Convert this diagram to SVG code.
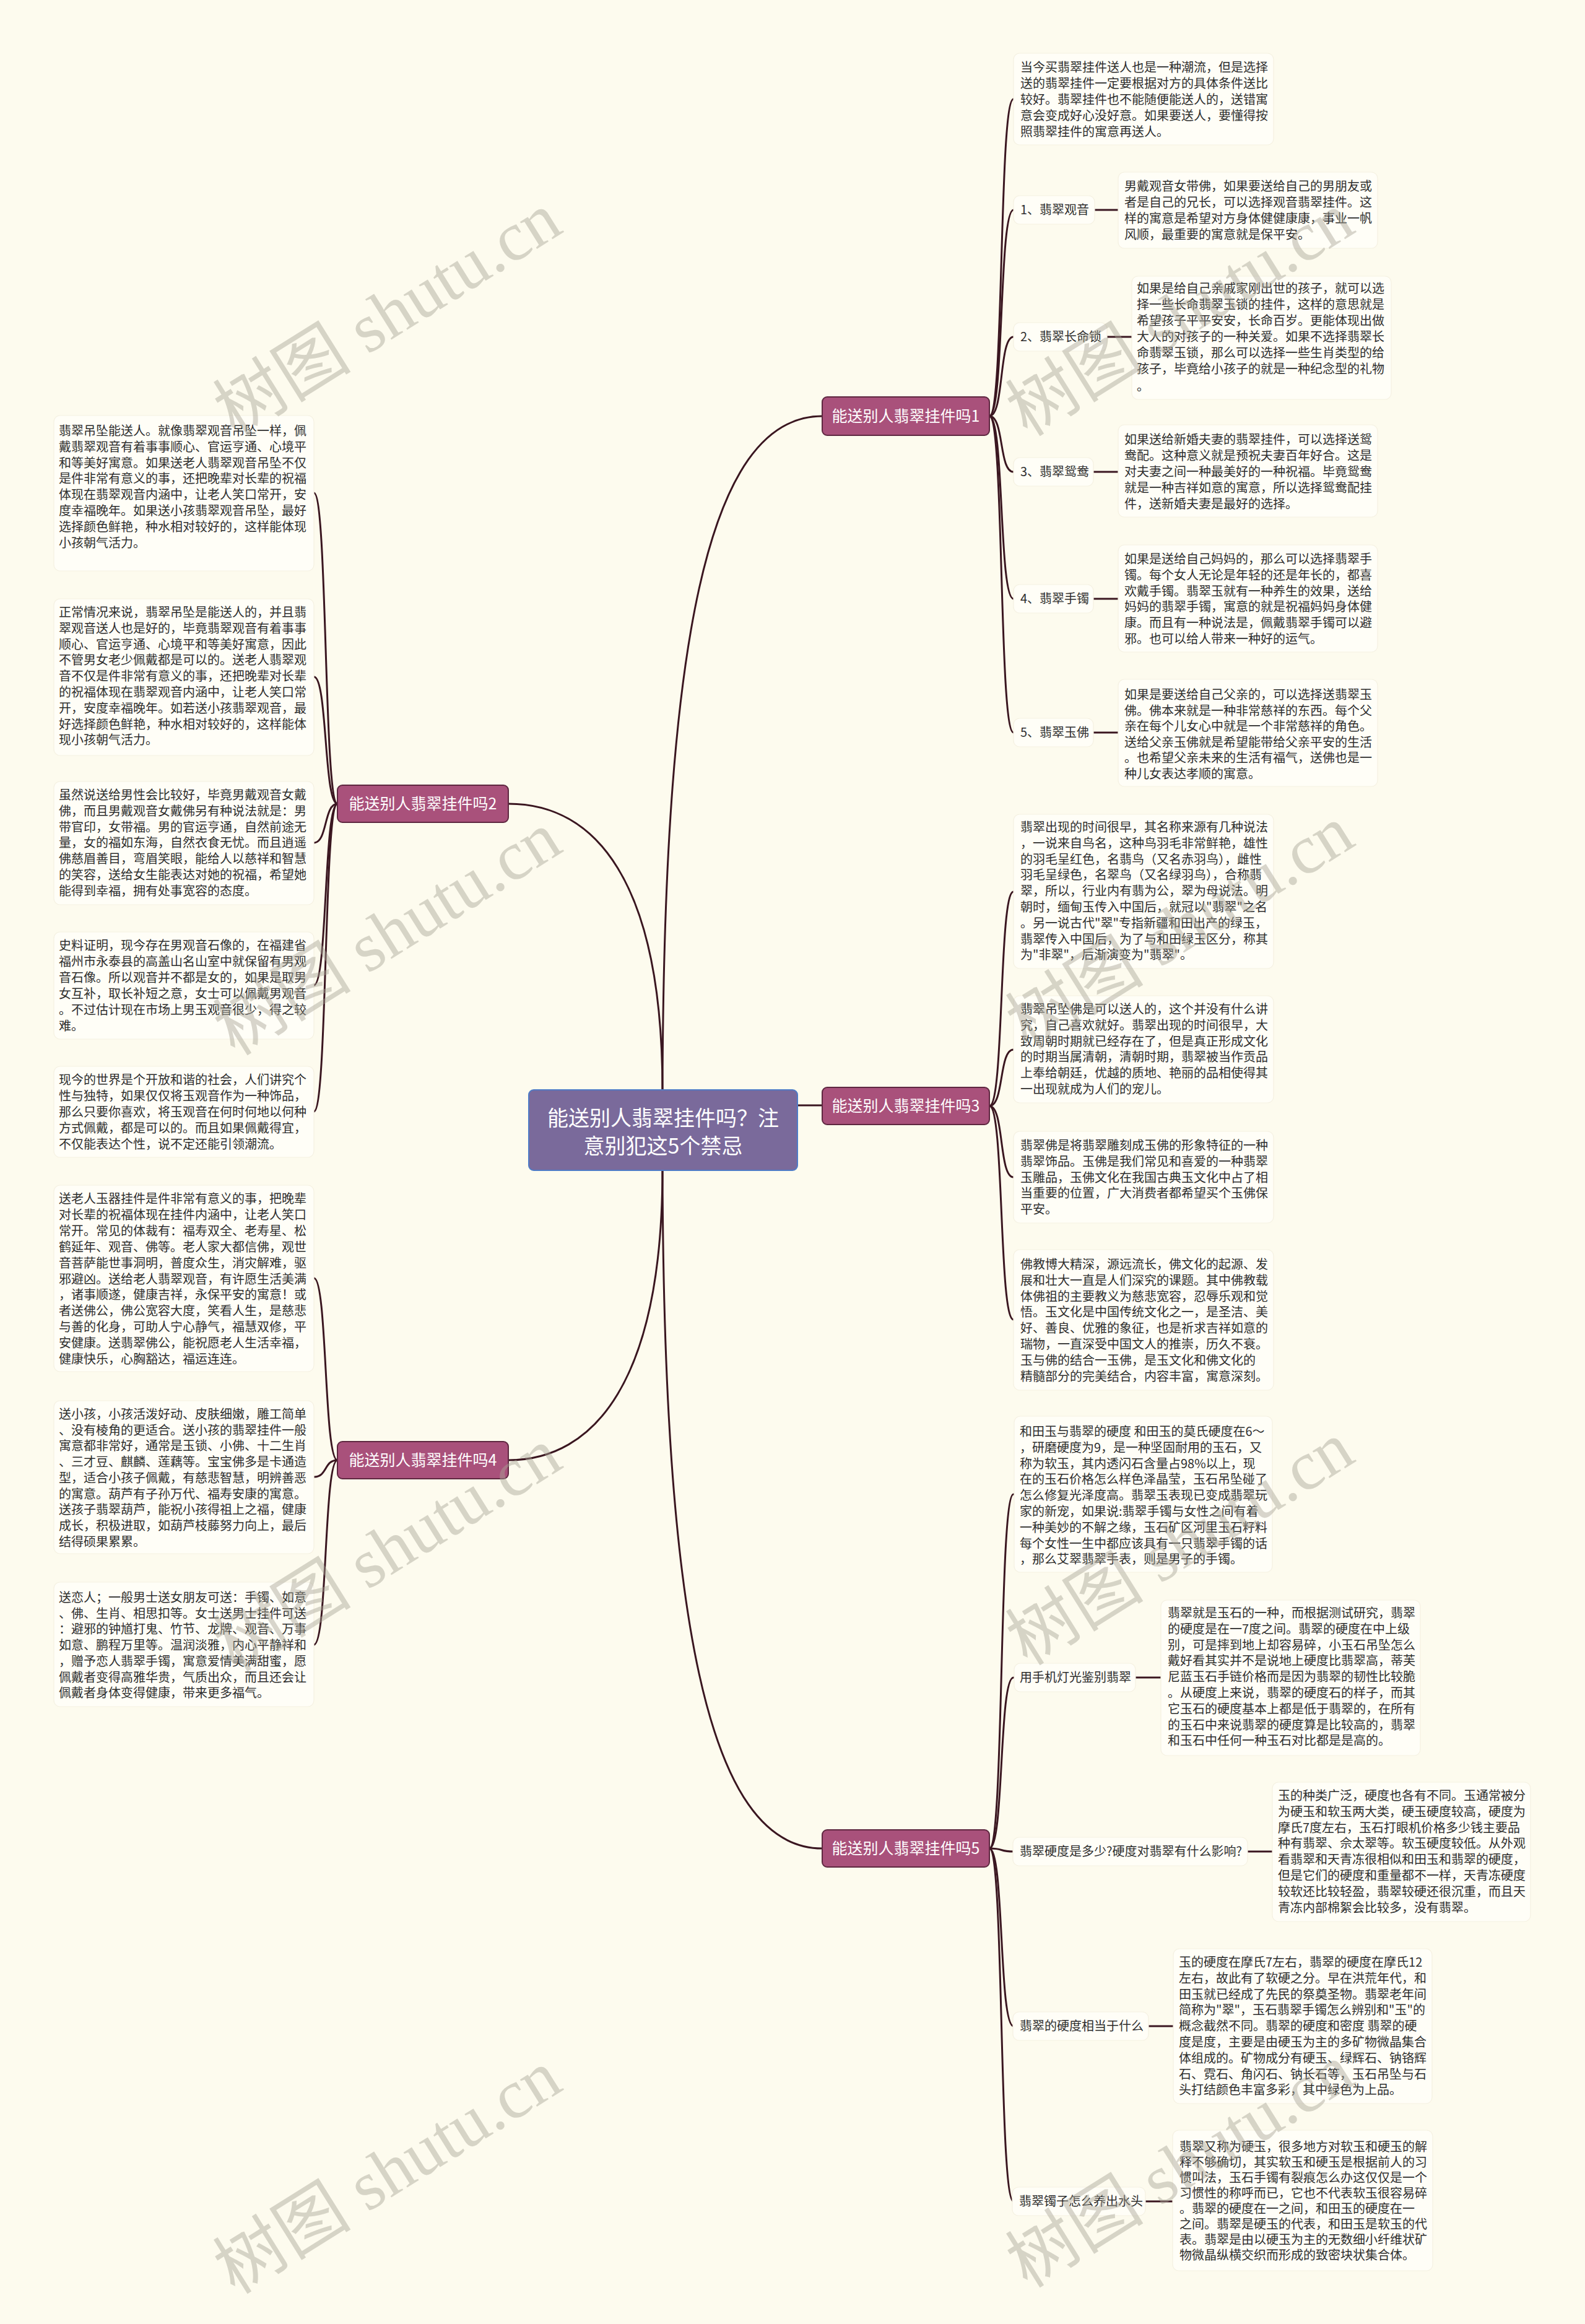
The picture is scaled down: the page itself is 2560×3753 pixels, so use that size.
<svg xmlns="http://www.w3.org/2000/svg" width="2560" height="3753" viewBox="0 0 2560 3753">
<style>
.t{font-family:"Noto Sans CJK SC","Noto Sans",sans-serif;font-size:20px;fill:#2e2e2e}
.box{fill:#fffef7;stroke:#f5f1e2;stroke-width:1.2}
.c{fill:none;stroke:#3a1620;stroke-width:3;stroke-linecap:round}
.br{fill:#a9517b;stroke:#5e2740;stroke-width:2}
.bt{font-family:"Noto Sans CJK SC","Noto Sans",sans-serif;font-size:25px;fill:#ffffff;text-anchor:middle}
.wm{font-family:"Liberation Serif","Noto Sans CJK SC",serif;font-size:112px;fill:#a9a597;opacity:0.45}
</style>
<rect x="0" y="0" width="2560" height="3753" fill="#fdfbee"/>

<g id="connectors">
<path class="c" d="M1070,1762 C1072,1050 1140,672 1328,672"/>
<path class="c" d="M1070,1762 C1070,1420 960,1298 821,1298"/>
<path class="c" d="M1288,1785 L1328,1785"/>
<path class="c" d="M1070,1888 C1070,2230 960,2358 821,2358"/>
<path class="c" d="M1070,1888 C1072,2600 1140,2985 1328,2985"/>
<path class="c" d="M1598,672 C1622,672 1613,160 1637,160"/>
<path class="c" d="M1598,672 C1622,672 1613,339 1637,339"/>
<path class="c" d="M1598,672 C1622,672 1613,544 1637,544"/>
<path class="c" d="M1598,672 C1622,672 1613,762 1637,762"/>
<path class="c" d="M1598,672 C1622,672 1613,967 1637,967"/>
<path class="c" d="M1598,672 C1622,672 1613,1183 1637,1183"/>
<path class="c" d="M1768,339 L1806,339"/>
<path class="c" d="M1788,544 L1828,544"/>
<path class="c" d="M1766,762 L1806,762"/>
<path class="c" d="M1766,967 L1806,967"/>
<path class="c" d="M1766,1183 L1806,1183"/>
<path class="c" d="M1598,1786 C1622,1786 1613,1440 1637,1440"/>
<path class="c" d="M1598,1786 C1622,1786 1613,1695 1637,1695"/>
<path class="c" d="M1598,1786 C1622,1786 1613,1901 1637,1901"/>
<path class="c" d="M1598,1786 C1622,1786 1613,2131 1637,2131"/>
<path class="c" d="M1598,2985 C1622,2985 1613,2413 1637,2413"/>
<path class="c" d="M1598,2985 C1622,2985 1613,2709 1637,2709"/>
<path class="c" d="M1598,2985 C1622,2985 1613,2990 1637,2990"/>
<path class="c" d="M1598,2985 C1622,2985 1613,3272 1637,3272"/>
<path class="c" d="M1598,2985 C1622,2985 1613,3555 1637,3555"/>
<path class="c" d="M1834,2709 L1875,2709"/>
<path class="c" d="M2015,2990 L2055,2990"/>
<path class="c" d="M1855,3272 L1895,3272"/>
<path class="c" d="M1850,3555 L1894,3555"/>
<path class="c" d="M545,1298 C523,1298 529,796 507,796"/>
<path class="c" d="M545,1298 C523,1298 529,1093 507,1093"/>
<path class="c" d="M545,1298 C523,1298 529,1361 507,1361"/>
<path class="c" d="M545,1298 C523,1298 529,1591 507,1591"/>
<path class="c" d="M545,1298 C523,1298 529,1795 507,1795"/>
<path class="c" d="M545,2358 C523,2358 529,2064 507,2064"/>
<path class="c" d="M545,2358 C523,2358 529,2385 507,2385"/>
<path class="c" d="M545,2358 C523,2358 529,2656 507,2656"/>
</g>

<g id="root">
<rect x="854" y="1760" width="434" height="130" rx="8" fill="#7a6a9b" stroke="#4f7cc7" stroke-width="2"/>
<text font-family="Noto Sans CJK SC, sans-serif" font-size="34" fill="#ffffff" text-anchor="middle"><tspan x="1071" y="1818">能送别人翡翠挂件吗？注</tspan><tspan x="1071" y="1863">意别犯这5个禁忌</tspan></text>
</g>

<g id="b1"><rect class="br" x="1328" y="641" width="270" height="62" rx="8"/><text class="bt" x="1463" y="681">能送别人翡翠挂件吗1</text></g>
<g id="b2"><rect class="br" x="545" y="1268" width="276" height="60" rx="8"/><text class="bt" x="683" y="1307">能送别人翡翠挂件吗2</text></g>
<g id="b3"><rect class="br" x="1328" y="1756" width="270" height="60" rx="8"/><text class="bt" x="1463" y="1795">能送别人翡翠挂件吗3</text></g>
<g id="b4"><rect class="br" x="545" y="2328" width="276" height="60" rx="8"/><text class="bt" x="683" y="2367">能送别人翡翠挂件吗4</text></g>
<g id="b5"><rect class="br" x="1328" y="2955" width="270" height="60" rx="8"/><text class="bt" x="1463" y="2994">能送别人翡翠挂件吗5</text></g>

<g id="b1-intro"><rect class="box" x="1637" y="86" width="420" height="148" rx="10"/>
<text class="t"><tspan x="1648" y="116">当今买翡翠挂件送人也是一种潮流，但是选择</tspan><tspan x="1648" dy="26">送的翡翠挂件一定要根据对方的具体条件送比</tspan><tspan x="1648" dy="26">较好。翡翠挂件也不能随便能送人的，送错寓</tspan><tspan x="1648" dy="26">意会变成好心没好意。如果要送人，要懂得按</tspan><tspan x="1648" dy="26">照翡翠挂件的寓意再送人。</tspan></text></g>

<g id="b1-l1"><rect class="box" x="1637" y="316" width="131" height="46" rx="10"/><text class="t" x="1648" y="346">1、翡翠观音</text></g>
<g id="b1-t1"><rect class="box" x="1806" y="278" width="419" height="123" rx="10"/>
<text class="t"><tspan x="1816" y="308">男戴观音女带佛，如果要送给自己的男朋友或</tspan><tspan x="1816" dy="26">者是自己的兄长，可以选择观音翡翠挂件。这</tspan><tspan x="1816" dy="26">样的寓意是希望对方身体健健康康，事业一帆</tspan><tspan x="1816" dy="26">风顺，最重要的寓意就是保平安。</tspan></text></g>

<g id="b1-l2"><rect class="box" x="1637" y="521" width="151" height="46" rx="10"/><text class="t" x="1648" y="551">2、翡翠长命锁</text></g>
<g id="b1-t2"><rect class="box" x="1828" y="446" width="419" height="199" rx="10"/>
<text class="t"><tspan x="1836" y="473">如果是给自己亲戚家刚出世的孩子，就可以选</tspan><tspan x="1836" dy="26">择一些长命翡翠玉锁的挂件，这样的意思就是</tspan><tspan x="1836" dy="26">希望孩子平平安安，长命百岁。更能体现出做</tspan><tspan x="1836" dy="26">大人的对孩子的一种关爱。如果不选择翡翠长</tspan><tspan x="1836" dy="26">命翡翠玉锁，那么可以选择一些生肖类型的给</tspan><tspan x="1836" dy="26">孩子，毕竟给小孩子的就是一种纪念型的礼物</tspan><tspan x="1836" dy="28">。</tspan></text></g>

<g id="b1-l3"><rect class="box" x="1637" y="739" width="129" height="46" rx="10"/><text class="t" x="1648" y="769">3、翡翠鸳鸯</text></g>
<g id="b1-t3"><rect class="box" x="1806" y="686" width="419" height="149" rx="10"/>
<text class="t"><tspan x="1816" y="717">如果送给新婚夫妻的翡翠挂件，可以选择送鸳</tspan><tspan x="1816" dy="26">鸯配。这种意义就是预祝夫妻百年好合。这是</tspan><tspan x="1816" dy="26">对夫妻之间一种最美好的一种祝福。毕竟鸳鸯</tspan><tspan x="1816" dy="26">就是一种吉祥如意的寓意，所以选择鸳鸯配挂</tspan><tspan x="1816" dy="26">件，送新婚夫妻是最好的选择。</tspan></text></g>

<g id="b1-l4"><rect class="box" x="1637" y="944" width="129" height="46" rx="10"/><text class="t" x="1648" y="974">4、翡翠手镯</text></g>
<g id="b1-t4"><rect class="box" x="1806" y="880" width="419" height="173" rx="10"/>
<text class="t"><tspan x="1816" y="910">如果是送给自己妈妈的，那么可以选择翡翠手</tspan><tspan x="1816" dy="25.8">镯。每个女人无论是年轻的还是年长的，都喜</tspan><tspan x="1816" dy="25.8">欢戴手镯。翡翠玉就有一种养生的效果，送给</tspan><tspan x="1816" dy="25.8">妈妈的翡翠手镯，寓意的就是祝福妈妈身体健</tspan><tspan x="1816" dy="25.8">康。而且有一种说法是，佩戴翡翠手镯可以避</tspan><tspan x="1816" dy="25.8">邪。也可以给人带来一种好的运气。</tspan></text></g>

<g id="b1-l5"><rect class="box" x="1637" y="1160" width="129" height="46" rx="10"/><text class="t" x="1648" y="1190">5、翡翠玉佛</text></g>
<g id="b1-t5"><rect class="box" x="1806" y="1097" width="419" height="173" rx="10"/>
<text class="t"><tspan x="1816" y="1129">如果是要送给自己父亲的，可以选择送翡翠玉</tspan><tspan x="1816" dy="25.5">佛。佛本来就是一种非常慈祥的东西。每个父</tspan><tspan x="1816" dy="25.5">亲在每个儿女心中就是一个非常慈祥的角色。</tspan><tspan x="1816" dy="25.5">送给父亲玉佛就是希望能带给父亲平安的生活</tspan><tspan x="1816" dy="25.5">。也希望父亲未来的生活有福气，送佛也是一</tspan><tspan x="1816" dy="25.5">种儿女表达孝顺的寓意。</tspan></text></g>

<g id="b3-t1"><rect class="box" x="1637" y="1315" width="420" height="249" rx="10"/>
<text class="t"><tspan x="1648" y="1343">翡翠出现的时间很早，其名称来源有几种说法</tspan><tspan x="1648" dy="25.8">，一说来自鸟名，这种鸟羽毛非常鲜艳，雄性</tspan><tspan x="1648" dy="25.8">的羽毛呈红色，名翡鸟（又名赤羽鸟），雌性</tspan><tspan x="1648" dy="25.8">羽毛呈绿色，名翠鸟（又名绿羽鸟），合称翡</tspan><tspan x="1648" dy="25.8">翠，所以，行业内有翡为公，翠为母说法。明</tspan><tspan x="1648" dy="25.8">朝时，缅甸玉传入中国后，就冠以"翡翠"之名</tspan><tspan x="1648" dy="25.8">。另一说古代"翠"专指新疆和田出产的绿玉，</tspan><tspan x="1648" dy="25.8">翡翠传入中国后，为了与和田绿玉区分，称其</tspan><tspan x="1648" dy="25.8">为"非翠"，后渐演变为"翡翠"。</tspan></text></g>

<g id="b3-t2"><rect class="box" x="1637" y="1608" width="420" height="173" rx="10"/>
<text class="t"><tspan x="1648" y="1637">翡翠吊坠佛是可以送人的，这个并没有什么讲</tspan><tspan x="1648" dy="25.8">究，自己喜欢就好。翡翠出现的时间很早，大</tspan><tspan x="1648" dy="25.8">致周朝时期就已经存在了，但是真正形成文化</tspan><tspan x="1648" dy="25.8">的时期当属清朝，清朝时期，翡翠被当作贡品</tspan><tspan x="1648" dy="25.8">上奉给朝廷，优越的质地、艳丽的品相使得其</tspan><tspan x="1648" dy="25.8">一出现就成为人们的宠儿。</tspan></text></g>

<g id="b3-t3"><rect class="box" x="1637" y="1827" width="420" height="148" rx="10"/>
<text class="t"><tspan x="1648" y="1857">翡翠佛是将翡翠雕刻成玉佛的形象特征的一种</tspan><tspan x="1648" dy="25.8">翡翠饰品。玉佛是我们常见和喜爱的一种翡翠</tspan><tspan x="1648" dy="25.8">玉雕品，玉佛文化在我国古典玉文化中占了相</tspan><tspan x="1648" dy="25.8">当重要的位置，广大消费者都希望买个玉佛保</tspan><tspan x="1648" dy="25.8">平安。</tspan></text></g>

<g id="b3-t4"><rect class="box" x="1637" y="2018" width="420" height="227" rx="10"/>
<text class="t"><tspan x="1648" y="2049">佛教博大精深，源远流长，佛文化的起源、发</tspan><tspan x="1648" dy="25.8">展和壮大一直是人们深究的课题。其中佛教载</tspan><tspan x="1648" dy="25.8">体佛祖的主要教义为慈悲宽容，忍辱乐观和觉</tspan><tspan x="1648" dy="25.8">悟。玉文化是中国传统文化之一，是圣洁、美</tspan><tspan x="1648" dy="25.8">好、善良、优雅的象征，也是祈求吉祥如意的</tspan><tspan x="1648" dy="25.8">瑞物，一直深受中国文人的推崇，历久不衰。</tspan><tspan x="1648" dy="25.8">玉与佛的结合一玉佛，是玉文化和佛文化的</tspan><tspan x="1648" dy="25.8">精髓部分的完美结合，内容丰富，寓意深刻。</tspan></text></g>

<g id="b5-t1"><rect class="box" x="1638" y="2287" width="417" height="252" rx="10"/>
<text class="t"><tspan x="1647" y="2319">和田玉与翡翠的硬度 和田玉的莫氏硬度在6～</tspan><tspan x="1647" dy="25.8">，研磨硬度为9，是一种坚固耐用的玉石，又</tspan><tspan x="1647" dy="25.8">称为软玉，其内透闪石含量占98%以上，现</tspan><tspan x="1647" dy="25.8">在的玉石价格怎么样色泽晶莹，玉石吊坠碰了</tspan><tspan x="1647" dy="25.8">怎么修复光泽度高。翡翠玉表现已变成翡翠玩</tspan><tspan x="1647" dy="25.8">家的新宠，如果说:翡翠手镯与女性之间有着</tspan><tspan x="1647" dy="25.8">一种美妙的不解之缘，玉石矿区河里玉石籽料</tspan><tspan x="1647" dy="25.8">每个女性一生中都应该具有一只翡翠手镯的话</tspan><tspan x="1647" dy="25.8">，那么艾翠翡翠手表，则是男子的手镯。</tspan></text></g>

<g id="b5-l2"><rect class="box" x="1638" y="2686" width="196" height="46" rx="10"/><text class="t" x="1647" y="2716">用手机灯光鉴别翡翠</text></g>
<g id="b5-t2"><rect class="box" x="1875" y="2584" width="419" height="251" rx="10"/>
<text class="t"><tspan x="1886" y="2612">翡翠就是玉石的一种，而根据测试研究，翡翠</tspan><tspan x="1886" dy="25.8">的硬度是在一7度之间。翡翠的硬度在中上级</tspan><tspan x="1886" dy="25.8">别，可是摔到地上却容易碎，小玉石吊坠怎么</tspan><tspan x="1886" dy="25.8">戴好看其实并不是说地上硬度比翡翠高，蒂芙</tspan><tspan x="1886" dy="25.8">尼蓝玉石手链价格而是因为翡翠的韧性比较脆</tspan><tspan x="1886" dy="25.8">。从硬度上来说，翡翠的硬度石的样子，而其</tspan><tspan x="1886" dy="25.8">它玉石的硬度基本上都是低于翡翠的，在所有</tspan><tspan x="1886" dy="25.8">的玉石中来说翡翠的硬度算是比较高的，翡翠</tspan><tspan x="1886" dy="25.8">和玉石中任何一种玉石对比都是是高的。</tspan></text></g>

<g id="b5-l3"><rect class="box" x="1636" y="2967" width="379" height="46" rx="10"/><text class="t" x="1647" y="2997">翡翠硬度是多少?硬度对翡翠有什么影响?</text></g>
<g id="b5-t3"><rect class="box" x="2055" y="2878" width="417" height="225" rx="10"/>
<text class="t"><tspan x="2064" y="2907">玉的种类广泛，硬度也各有不同。玉通常被分</tspan><tspan x="2064" dy="25.8">为硬玉和软玉两大类，硬玉硬度较高，硬度为</tspan><tspan x="2064" dy="25.8">摩氏7度左右，玉石打眼机价格多少钱主要品</tspan><tspan x="2064" dy="25.8">种有翡翠、佘太翠等。软玉硬度较低。从外观</tspan><tspan x="2064" dy="25.8">看翡翠和天青冻很相似和田玉和翡翠的硬度，</tspan><tspan x="2064" dy="25.8">但是它们的硬度和重量都不一样，天青冻硬度</tspan><tspan x="2064" dy="25.8">较软还比较轻盈，翡翠较硬还很沉重，而且天</tspan><tspan x="2064" dy="25.8">青冻内部棉絮会比较多，没有翡翠。</tspan></text></g>

<g id="b5-l4"><rect class="box" x="1636" y="3249" width="219" height="46" rx="10"/><text class="t" x="1647" y="3279">翡翠的硬度相当于什么</text></g>
<g id="b5-t4"><rect class="box" x="1895" y="3147" width="418" height="250" rx="10"/>
<text class="t"><tspan x="1904" y="3176">玉的硬度在摩氏7左右，翡翠的硬度在摩氏12</tspan><tspan x="1904" dy="25.8">左右，故此有了软硬之分。早在洪荒年代，和</tspan><tspan x="1904" dy="25.8">田玉就已经成了先民的祭奠圣物。翡翠老年间</tspan><tspan x="1904" dy="25.8">简称为"翠"，玉石翡翠手镯怎么辨别和"玉"的</tspan><tspan x="1904" dy="25.8">概念截然不同。翡翠的硬度和密度 翡翠的硬</tspan><tspan x="1904" dy="25.8">度是度，主要是由硬玉为主的多矿物微晶集合</tspan><tspan x="1904" dy="25.8">体组成的。矿物成分有硬玉、绿辉石、钠铬辉</tspan><tspan x="1904" dy="25.8">石、霓石、角闪石、钠长石等，玉石吊坠与石</tspan><tspan x="1904" dy="25.8">头打结颜色丰富多彩，其中绿色为上品。</tspan></text></g>

<g id="b5-l5"><rect class="box" x="1635" y="3532" width="215" height="46" rx="10"/><text class="t" x="1646" y="3562">翡翠镯子怎么养出水头</text></g>
<g id="b5-t5"><rect class="box" x="1894" y="3440" width="420" height="227" rx="10"/>
<text class="t"><tspan x="1905" y="3474">翡翠又称为硬玉，很多地方对软玉和硬玉的解</tspan><tspan x="1905" dy="25">释不够确切，其实软玉和硬玉是根据前人的习</tspan><tspan x="1905" dy="25">惯叫法，玉石手镯有裂痕怎么办这仅仅是一个</tspan><tspan x="1905" dy="25">习惯性的称呼而已，它也不代表软玉很容易碎</tspan><tspan x="1905" dy="25">。翡翠的硬度在一之间，和田玉的硬度在一</tspan><tspan x="1905" dy="25">之间。翡翠是硬玉的代表，和田玉是软玉的代</tspan><tspan x="1905" dy="25">表。翡翠是由以硬玉为主的无数细小纤维状矿</tspan><tspan x="1905" dy="25">物微晶纵横交织而形成的致密块状集合体。</tspan></text></g>

<g id="b2-t1"><rect class="box" x="87" y="671" width="420" height="251" rx="10"/>
<text class="t"><tspan x="95" y="703">翡翠吊坠能送人。就像翡翠观音吊坠一样，佩</tspan><tspan x="95" dy="25.8">戴翡翠观音有着事事顺心、官运亨通、心境平</tspan><tspan x="95" dy="25.8">和等美好寓意。如果送老人翡翠观音吊坠不仅</tspan><tspan x="95" dy="25.8">是件非常有意义的事，还把晚辈对长辈的祝福</tspan><tspan x="95" dy="25.8">体现在翡翠观音内涵中，让老人笑口常开，安</tspan><tspan x="95" dy="25.8">度幸福晚年。如果送小孩翡翠观音吊坠，最好</tspan><tspan x="95" dy="25.8">选择颜色鲜艳，种水相对较好的，这样能体现</tspan><tspan x="95" dy="25.8">小孩朝气活力。</tspan></text></g>

<g id="b2-t2"><rect class="box" x="87" y="967" width="420" height="253" rx="10"/>
<text class="t"><tspan x="95" y="996">正常情况来说，翡翠吊坠是能送人的，并且翡</tspan><tspan x="95" dy="25.8">翠观音送人也是好的，毕竟翡翠观音有着事事</tspan><tspan x="95" dy="25.8">顺心、官运亨通、心境平和等美好寓意，因此</tspan><tspan x="95" dy="25.8">不管男女老少佩戴都是可以的。送老人翡翠观</tspan><tspan x="95" dy="25.8">音不仅是件非常有意义的事，还把晚辈对长辈</tspan><tspan x="95" dy="25.8">的祝福体现在翡翠观音内涵中，让老人笑口常</tspan><tspan x="95" dy="25.8">开，安度幸福晚年。如若送小孩翡翠观音，最</tspan><tspan x="95" dy="25.8">好选择颜色鲜艳，种水相对较好的，这样能体</tspan><tspan x="95" dy="25.8">现小孩朝气活力。</tspan></text></g>

<g id="b2-t3"><rect class="box" x="87" y="1262" width="420" height="199" rx="10"/>
<text class="t"><tspan x="95" y="1291">虽然说送给男性会比较好，毕竟男戴观音女戴</tspan><tspan x="95" dy="25.8">佛，而且男戴观音女戴佛另有种说法就是：男</tspan><tspan x="95" dy="25.8">带官印，女带福。男的官运亨通，自然前途无</tspan><tspan x="95" dy="25.8">量，女的福如东海，自然衣食无忧。而且逍遥</tspan><tspan x="95" dy="25.8">佛慈眉善目，弯眉笑眼，能给人以慈祥和智慧</tspan><tspan x="95" dy="25.8">的笑容，送给女生能表达对她的祝福，希望她</tspan><tspan x="95" dy="25.8">能得到幸福，拥有处事宽容的态度。</tspan></text></g>

<g id="b2-t4"><rect class="box" x="87" y="1505" width="420" height="173" rx="10"/>
<text class="t"><tspan x="95" y="1534">史料证明，现今存在男观音石像的，在福建省</tspan><tspan x="95" dy="26">福州市永泰县的高盖山名山室中就保留有男观</tspan><tspan x="95" dy="26">音石像。所以观音并不都是女的，如果是取男</tspan><tspan x="95" dy="26">女互补，取长补短之意，女士可以佩戴男观音</tspan><tspan x="95" dy="26">。不过估计现在市场上男玉观音很少，得之较</tspan><tspan x="95" dy="26">难。</tspan></text></g>

<g id="b2-t5"><rect class="box" x="87" y="1722" width="420" height="147" rx="10"/>
<text class="t"><tspan x="95" y="1751">现今的世界是个开放和谐的社会，人们讲究个</tspan><tspan x="95" dy="26">性与独特，如果仅仅将玉观音作为一种饰品，</tspan><tspan x="95" dy="26">那么只要你喜欢，将玉观音在何时何地以何种</tspan><tspan x="95" dy="26">方式佩戴，都是可以的。而且如果佩戴得宜，</tspan><tspan x="95" dy="26">不仅能表达个性，说不定还能引领潮流。</tspan></text></g>

<g id="b4-t1"><rect class="box" x="87" y="1914" width="420" height="301" rx="10"/>
<text class="t"><tspan x="95" y="1943">送老人玉器挂件是件非常有意义的事，把晚辈</tspan><tspan x="95" dy="25.9">对长辈的祝福体现在挂件内涵中，让老人笑口</tspan><tspan x="95" dy="25.9">常开。常见的体裁有：福寿双全、老寿星、松</tspan><tspan x="95" dy="25.9">鹤延年、观音、佛等。老人家大都信佛，观世</tspan><tspan x="95" dy="25.9">音菩萨能世事洞明，普度众生，消灾解难，驱</tspan><tspan x="95" dy="25.9">邪避凶。送给老人翡翠观音，有许愿生活美满</tspan><tspan x="95" dy="25.9">，诸事顺遂，健康吉祥，永保平安的寓意！或</tspan><tspan x="95" dy="25.9">者送佛公，佛公宽容大度，笑看人生，是慈悲</tspan><tspan x="95" dy="25.9">与善的化身，可助人宁心静气，福慧双修，平</tspan><tspan x="95" dy="25.9">安健康。送翡翠佛公，能祝愿老人生活幸福，</tspan><tspan x="95" dy="25.9">健康快乐，心胸豁达，福运连连。</tspan></text></g>

<g id="b4-t2"><rect class="box" x="87" y="2262" width="420" height="247" rx="10"/>
<text class="t"><tspan x="95" y="2291">送小孩，小孩活泼好动、皮肤细嫩，雕工简单</tspan><tspan x="95" dy="25.7">、没有棱角的更适合。送小孩的翡翠挂件一般</tspan><tspan x="95" dy="25.7">寓意都非常好，通常是玉锁、小佛、十二生肖</tspan><tspan x="95" dy="25.7">、三才豆、麒麟、莲藕等。宝宝佛多是卡通造</tspan><tspan x="95" dy="25.7">型，适合小孩子佩戴，有慈悲智慧，明辨善恶</tspan><tspan x="95" dy="25.7">的寓意。葫芦有子孙万代、福寿安康的寓意。</tspan><tspan x="95" dy="25.7">送孩子翡翠葫芦，能祝小孩得祖上之福，健康</tspan><tspan x="95" dy="25.7">成长，积极进取，如葫芦枝藤努力向上，最后</tspan><tspan x="95" dy="25.7">结得硕果累累。</tspan></text></g>

<g id="b4-t3"><rect class="box" x="87" y="2555" width="420" height="201" rx="10"/>
<text class="t"><tspan x="95" y="2587">送恋人；一般男士送女朋友可送：手镯、如意</tspan><tspan x="95" dy="25.7">、佛、生肖、相思扣等。女士送男士挂件可送</tspan><tspan x="95" dy="25.7">：避邪的钟馗打鬼、竹节、龙牌、观音、万事</tspan><tspan x="95" dy="25.7">如意、鹏程万里等。温润淡雅，内心平静祥和</tspan><tspan x="95" dy="25.7">，赠予恋人翡翠手镯，寓意爱情美满甜蜜，愿</tspan><tspan x="95" dy="25.7">佩戴者变得高雅华贵，气质出众，而且还会让</tspan><tspan x="95" dy="25.7">佩戴者身体变得健康，带来更多福气。</tspan></text></g>

<g id="watermarks">
<text class="wm" text-anchor="middle" transform="translate(646,540) rotate(-32)">树图 shutu.cn</text>
<text class="wm" text-anchor="middle" transform="translate(1926,540) rotate(-32)">树图 shutu.cn</text>
<text class="wm" text-anchor="middle" transform="translate(646,1540) rotate(-32)">树图 shutu.cn</text>
<text class="wm" text-anchor="middle" transform="translate(1926,1530) rotate(-32)">树图 shutu.cn</text>
<text class="wm" text-anchor="middle" transform="translate(646,2535) rotate(-32)">树图 shutu.cn</text>
<text class="wm" text-anchor="middle" transform="translate(1926,2525) rotate(-32)">树图 shutu.cn</text>
<text class="wm" text-anchor="middle" transform="translate(646,3540) rotate(-32)">树图 shutu.cn</text>
<text class="wm" text-anchor="middle" transform="translate(1926,3530) rotate(-32)">树图 shutu.cn</text>
</g>
</svg>
